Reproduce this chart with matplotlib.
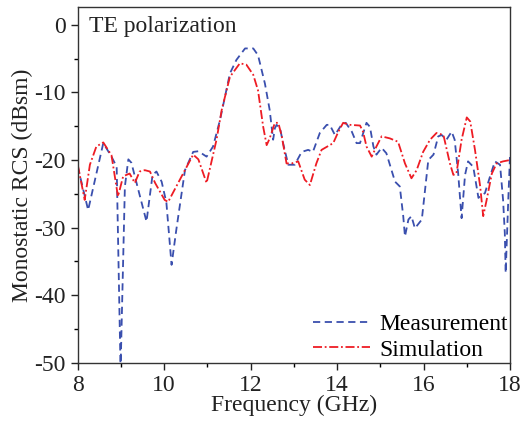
import matplotlib.pyplot as plt
from matplotlib.ticker import MultipleLocator

plt.rcParams['font.family'] = ['Liberation Serif', 'DejaVu Serif']
plt.rcParams['mathtext.fontset'] = 'stix'

# measured RCS (GHz, dBsm)
freq_meas = [8.0, 8.24, 8.59, 8.78, 8.9, 8.99, 9.09, 9.17, 9.24, 9.36, 9.59, 9.73,
             9.82, 9.94, 10.05, 10.17, 10.28, 10.48, 10.67, 10.79, 10.98, 11.13,
             11.29, 11.52, 11.67, 11.87, 12.06, 12.17, 12.33, 12.44, 12.52, 12.56,
             12.6, 12.68, 12.75, 12.87, 13.02, 13.18, 13.33, 13.44, 13.6, 13.76,
             13.83, 13.95, 14.1, 14.2, 14.34, 14.45, 14.53, 14.68, 14.76, 14.84,
             14.91, 15.03, 15.14, 15.34, 15.45, 15.53, 15.57, 15.65, 15.72, 15.8,
             15.96, 16.11, 16.23, 16.34, 16.42, 16.53, 16.65, 16.72, 16.8, 16.88,
             16.96, 17.03, 17.15, 17.27, 17.34, 17.42, 17.54, 17.65, 17.77, 17.84,
             17.88, 17.9, 17.96, 18.0]
rcs_meas = [-21.0, -27.4, -17.5, -19.5, -21.0, -51.0, -23.9, -19.9, -20.4, -23.4, -29.1, -22.2,
            -21.7, -23.2, -26.3, -35.5, -30.3, -21.5, -18.8, -18.7, -19.5, -18.0,
            -14.1, -7.2, -5.2, -3.5, -3.5, -4.5, -8.7, -12.6, -17.0, -15.3,
            -14.8, -15.3, -17.5, -20.7, -20.7, -18.8, -18.5, -18.8, -16.0, -14.8,
            -14.8, -16.3, -14.8, -14.5, -15.8, -17.5, -17.5, -14.5, -15.1, -18.0,
            -19.2, -18.2, -19.0, -23.2, -23.9, -28.3, -31.3, -28.8, -28.3, -30.1,
            -28.8, -20.0, -19.2, -16.5, -16.3, -17.0, -15.8, -17.0, -21.9, -28.6,
            -22.2, -20.2, -21.0, -25.6, -25.2, -24.9, -22.4, -20.2, -20.7, -25.9,
            -30.8, -36.7, -25.9, -19.5]

# simulated RCS
freq_sim = [8.0, 8.16, 8.28, 8.43, 8.59, 8.78, 8.93, 9.05, 9.2, 9.32, 9.43, 9.55,
            9.67, 9.79, 10.01, 10.09, 10.28, 10.52, 10.67, 10.79, 10.98, 11.21,
            11.33, 11.52, 11.75, 11.9, 12.06, 12.17, 12.29, 12.37, 12.44, 12.56,
            12.64, 12.72, 12.83, 12.95, 13.1, 13.25, 13.37, 13.52, 13.64, 13.91,
            14.03, 14.14, 14.3, 14.53, 14.6, 14.68, 14.8, 14.91, 15.03, 15.22,
            15.41, 15.57, 15.72, 15.84, 15.99, 16.15, 16.3, 16.46, 16.61, 16.69,
            16.76, 16.88, 17.0, 17.08, 17.19, 17.31, 17.38, 17.46, 17.58, 17.69,
            17.84, 18.0]
rcs_sim = [-20.7, -25.9, -20.7, -18.0, -17.4, -19.3, -25.4, -22.4, -22.0, -23.4, -21.7, -21.5,
           -21.7, -23.4, -25.9, -26.2, -23.9, -21.0, -19.2, -19.9, -23.4, -17.0,
           -12.6, -7.7, -5.7, -5.9, -7.4, -9.7, -15.1, -17.8, -16.8, -14.5,
           -14.5, -16.5, -20.5, -20.5, -20.2, -22.9, -23.7, -20.5, -18.5, -17.5,
           -15.8, -14.5, -14.8, -14.9, -15.8, -18.0, -19.5, -18.0, -16.5, -16.8,
           -17.3, -20.5, -22.7, -21.5, -18.8, -17.0, -16.0, -16.3, -20.5, -22.2,
           -22.0, -17.0, -13.7, -14.3, -18.5, -23.9, -28.3, -25.9, -22.0, -20.5,
           -20.2, -20.0]

fig = plt.figure(figsize=(5.22, 4.22), dpi=100)
ax = fig.add_axes([0.149, 0.140, 0.828, 0.843])

ax.plot(freq_meas, rcs_meas, color='#3a4fae', ls=(0, (4, 2.5)), lw=1.3, label='Measurement')
ax.plot(freq_sim, rcs_sim, color='#ee1c24', ls=(0, (5, 1.5, 1, 1.5)), lw=1.3, label='Simulation')

ax.set_xlim(8, 18)
ax.set_ylim(-50, 2.6)
ax.xaxis.set_major_locator(MultipleLocator(2))
ax.xaxis.set_minor_locator(MultipleLocator(1))
ax.yaxis.set_major_locator(MultipleLocator(10))
ax.yaxis.set_minor_locator(MultipleLocator(5))
ax.tick_params(which='major', direction='out', length=5, width=1, labelsize=17, colors='#222222')
ax.tick_params(which='minor', direction='out', length=3, width=1)
ax.set_yticks([0, -10, -20, -30, -40, -50])
ax.set_yticklabels(['0', '-10', '-20', '-30', '-40', '-50'])
for s in ax.spines.values():
    s.set_linewidth(1.0)
    s.set_color('#333333')

ax.set_xlabel('Frequency (GHz)', fontsize=17, labelpad=-1, color='#222222')
ax.set_ylabel('Monostatic RCS (dBsm)', fontsize=17, labelpad=1, color='#222222')
ax.text(0.025, 0.975, 'TE polarization', transform=ax.transAxes, fontsize=17,
        va='top', ha='left', color='#222222')

ax.legend(loc='lower right', frameon=False, fontsize=17, handlelength=2.4,
          handletextpad=0.4, borderaxespad=0.0, borderpad=0.1, labelspacing=0.15)

fig.savefig('out.png', dpi=100)
